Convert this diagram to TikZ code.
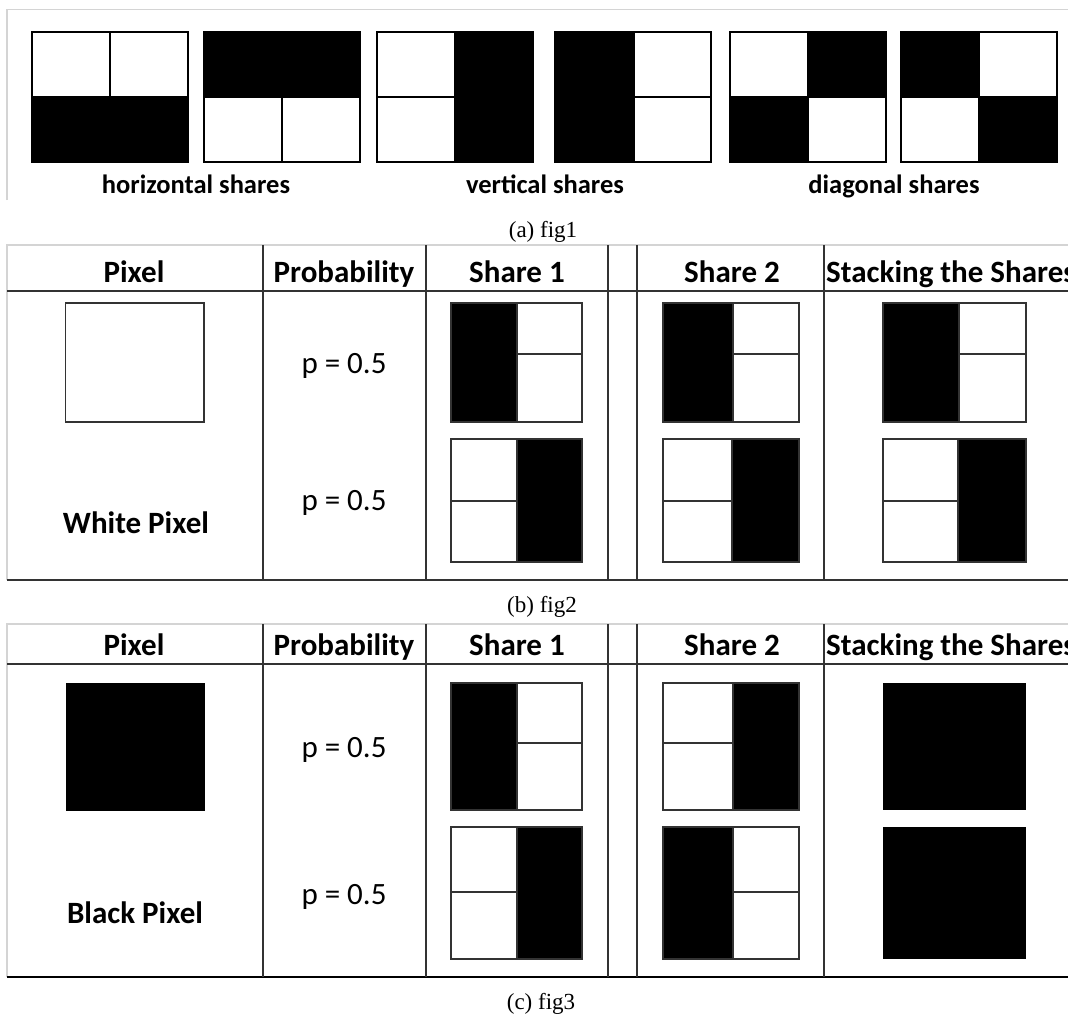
\documentclass[tikz,border=0pt]{standalone}
\usepackage{fontspec}
\setmainfont{Liberation Serif}
\newfontfamily\calib{Carlito}
\definecolor{tline}{HTML}{333333}
\definecolor{gborder}{HTML}{D4D4D4}
% table share boxes: L = left black, right two white cells; R = left two white cells, right black
\newcommand\shareL[6]{%
  \fill[white] (#1,#2) rectangle (#3,#4);
  \fill[black] (#1,#2) rectangle (#5,#4);
  \draw[tl] (#1,#2) rectangle (#3,#4);
  \draw[tl] (#5,#2) -- (#5,#4);
  \draw[tl] (#5,#6) -- (#3,#6);}
\newcommand\shareR[6]{%
  \fill[white] (#1,#2) rectangle (#3,#4);
  \fill[black] (#5,#2) rectangle (#3,#4);
  \draw[tl] (#1,#2) rectangle (#3,#4);
  \draw[tl] (#5,#2) -- (#5,#4);
  \draw[tl] (#1,#6) -- (#5,#6);}
\begin{document}
\begin{tikzpicture}[x=1pt,y=-1pt,
  tl/.style={draw=tline,line width=1.8pt},
  fb/.style={draw=black,line width=2.8pt},
  gb/.style={draw=gborder,line width=1.2pt},
  hdr/.style={inner sep=0pt,anchor=base,font=\calib\bfseries\fontsize{31}{37}\selectfont},
  lbl/.style={inner sep=0pt,anchor=base,font=\calib\bfseries\fontsize{26.5}{31}\selectfont},
  prob/.style={inner sep=0pt,anchor=base,font=\calib\fontsize{31}{37}\selectfont},
  captxt/.style={inner sep=0pt,anchor=base,font=\fontsize{23}{27}\selectfont}]
\useasboundingbox (0,0) rectangle (1068,1015);
\fill[white] (0,0) rectangle (1068,1015);
\clip (0,0) rectangle (1068,1015);

% ---------------- fig1 ----------------
\draw[gb] (7,200) -- (7,9.5) -- (1070,9.5);
% box1: top two white, bottom black
\fill (32,97) rectangle (188,162);
\draw[fb] (32,32) rectangle (188,162);
\draw[fb] (32,97) -- (188,97);
\draw[fb] (110,32) -- (110,97);
% box2: top black, bottom two white
\fill (204,32) rectangle (360,97);
\draw[fb] (204,32) rectangle (360,162);
\draw[fb] (204,97) -- (360,97);
\draw[fb] (282,97) -- (282,162);
% box3: left two white, right black
\fill (455,32) rectangle (533,162);
\draw[fb] (377,32) rectangle (533,162);
\draw[fb] (377,97) -- (455,97);
\draw[fb] (455,32) -- (455,162);
% box4: left black, right two white
\fill (555,32) rectangle (634,162);
\draw[fb] (555,32) rectangle (711,162);
\draw[fb] (634,97) -- (711,97);
\draw[fb] (634,32) -- (634,162);
% box5: TL white, TR black, BL black, BR white
\fill (808,32) rectangle (886,97);
\fill (730,97) rectangle (808,162);
\draw[fb] (730,32) rectangle (886,162);
\draw[fb] (730,97) -- (886,97);
\draw[fb] (808,32) -- (808,162);
% box6: TL black, TR white, BL white, BR black
\fill (901,32) rectangle (979,97);
\fill (979,97) rectangle (1057,162);
\draw[fb] (901,32) rectangle (1057,162);
\draw[fb] (901,97) -- (1057,97);
\draw[fb] (979,32) -- (979,162);

\node[lbl] (hs) at (196,193) {horizontal shares};
\node[lbl] (vs) at (545,193) {vertical shares};
\node[lbl] (ds) at (894,193) {diagonal shares};
\node[captxt] (capa) at (543,237) {(a) fig1};

% ---------------- fig2 ----------------
\draw[gb] (7,580) -- (7,245) -- (1070,245);
\draw[tl] (7,291) -- (1070,291);
\draw[tl] (7,580) -- (1070,580);
\foreach \xx in {263,426,608,637,824} \draw[tl] (\xx,245) -- (\xx,580);
\node[hdr] (h2a) at (134,282) {Pixel};
\node[hdr] (h2b) at (344,282) {Probability};
\node[hdr] (h2c) at (517,282) {Share 1};
\node[hdr] (h2d) at (732,282) {Share 2};
\node[hdr,anchor=base west] (h2e) at (826,282) {Stacking the Shares};
\draw[tl,fill=white] (65.5,303) rectangle (204,422);
\node[prob] (p2a) at (344,373) {p = 0.5};
\node[prob] (p2b) at (344,510) {p = 0.5};
\node[hdr] (wp) at (136,533) {White Pixel};
\shareL{451}{303}{582}{422}{517}{354}
\shareR{451}{439}{582}{562}{517}{501}
\shareL{663}{303}{799}{422}{733}{354}
\shareR{663}{439}{799}{562}{732}{501}
\shareL{883}{303}{1026}{422}{959}{354}
\shareR{883}{439}{1026}{562}{958}{501}
\node[captxt] (capb) at (542,612) {(b) fig2};

% ---------------- fig3 ----------------
\draw[gb] (7,977) -- (7,624) -- (1070,624);
\draw[tl] (7,664) -- (1070,664);
\draw[draw=black,line width=2.6pt] (7,977) -- (1070,977);
\foreach \xx in {263,426,608,637,824} \draw[tl] (\xx,624) -- (\xx,977);
\node[hdr] (h3a) at (134,655) {Pixel};
\node[hdr] (h3b) at (344,655) {Probability};
\node[hdr] (h3c) at (517,655) {Share 1};
\node[hdr] (h3d) at (732,655) {Share 2};
\node[hdr,anchor=base west] (h3e) at (826,655) {Stacking the Shares};
\fill (65.5,683) rectangle (204.5,811);
\node[prob] (p3a) at (344,757) {p = 0.5};
\node[prob] (p3b) at (344,904) {p = 0.5};
\node[hdr] (bp) at (135,923) {Black Pixel};
\shareL{451}{683}{582}{810}{517}{743}
\shareR{451}{827}{582}{959}{517}{892}
\shareR{663}{683}{799}{810}{733}{743}
\shareL{663}{827}{799}{959}{733}{892}
\fill (883,683) rectangle (1026,810);
\fill (883,827) rectangle (1026,959);
\node[captxt] (capc) at (541,1009) {(c) fig3};
\end{tikzpicture}
\end{document}
